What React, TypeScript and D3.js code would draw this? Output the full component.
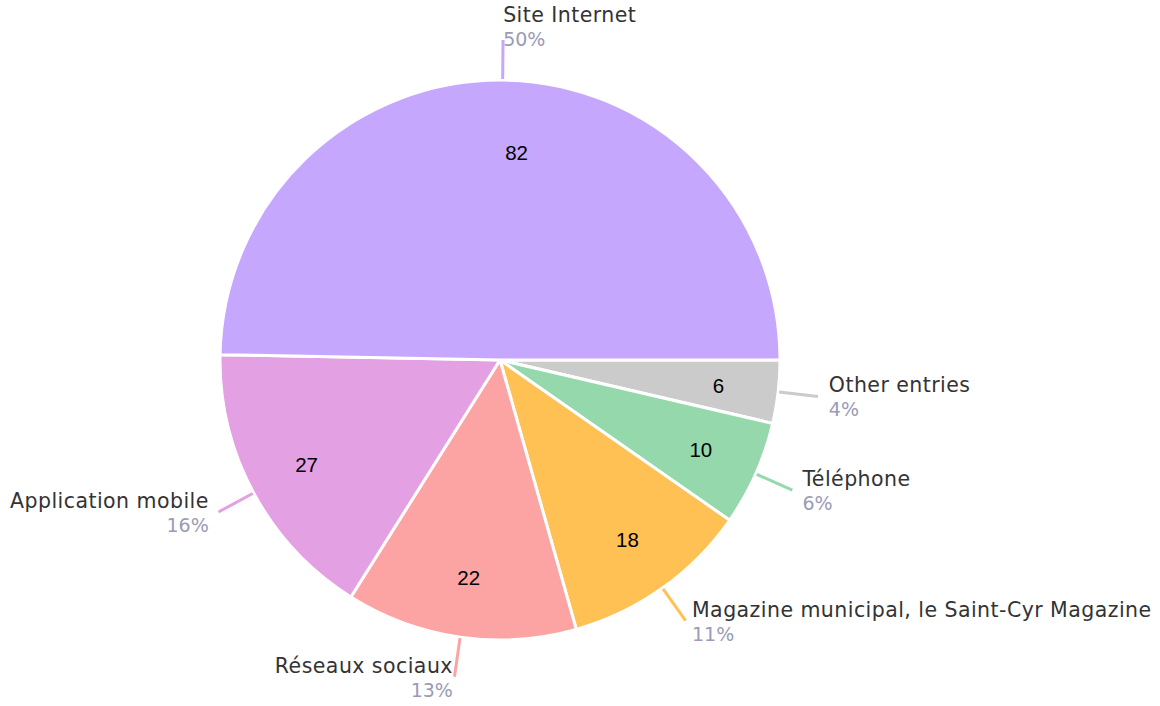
import React from "react";
import * as d3 from "d3";

const categories = ["Other entries", "Téléphone", "Magazine municipal, le Saint-Cyr Magazine", "Réseaux sociaux", "Application mobile", "Site Internet"];
const values = [6, 10, 18, 22, 27, 82];
const colors = ["#cbcbcb", "#94d8ac", "#ffc154", "#fca4a4", "#e3a0e2", "#c5a8fe"];

const W = 1160, H = 706;
const cx = 500, cy = 360, R = 280;
const FONT = "'DejaVu Sans', sans-serif";

export default function App() {
  const total = d3.sum(values);
  const data = categories.map((c, i) => ({ name: c, value: values[i], color: colors[i] }));
  const pie = d3.pie<any>().value((d: any) => d.value).sort(null).startAngle(Math.PI / 2).endAngle(Math.PI / 2 + 2 * Math.PI);
  const arcs = pie(data);
  const arc = d3.arc<any>().innerRadius(0).outerRadius(R);
  const fmt = (v: number) => `${Math.round((v / total) * 100)}%`;

  return (
    <svg width={W} height={H} style={{ position: "absolute", left: 0, top: 0, background: "#fff" }}>
      <g transform={`translate(${cx},${cy})`}>
        {arcs.map((a, i) => (
          <path key={i} d={arc(a) as string} fill={a.data.color} stroke="#fff" strokeWidth={3} strokeLinejoin="round" />
        ))}
        {arcs.map((a, i) => {
          const m = (a.startAngle + a.endAngle) / 2;
          const s = Math.sin(m), c = Math.cos(m);
          const r1 = R + 1, r2 = R + 40;
          const x1 = r1 * s, y1 = -r1 * c, x2 = r2 * s, y2 = -r2 * c;
          const gap = 11 * Math.abs(s);
          const right = s >= -0.05;
          const tx = right ? x2 + gap : x2 - gap;
          const yc = y2 - 14 * Math.max(0, c);
          const lr = R * 0.785;
          const lm = c > 0.9 ? m + 0.07 : m;
          const lrr = c > 0.9 ? R * 0.745 : lr;
          return (
            <g key={"l" + i}>
              <line x1={x1} y1={y1} x2={x2} y2={y2} stroke={a.data.color} strokeWidth={3} />
              <text x={tx} y={yc - 4} textAnchor={right ? "start" : "end"} fontFamily={FONT} fontSize={20.5} letterSpacing={0.45} fill="#333">
                {a.data.name}
              </text>
              <text x={tx} y={yc + 20} textAnchor={right ? "start" : "end"} fontFamily={FONT} fontSize={19} fill="#9a9bb6">
                {fmt(a.data.value)}
              </text>
              <text x={lrr * Math.sin(lm)} y={-lrr * Math.cos(lm)} textAnchor="middle" dominantBaseline="central" fontFamily="'Liberation Sans', Arial, sans-serif" fontSize={20.5} fill="#000">
                {a.data.value}
              </text>
            </g>
          );
        })}
      </g>
    </svg>
  );
}
